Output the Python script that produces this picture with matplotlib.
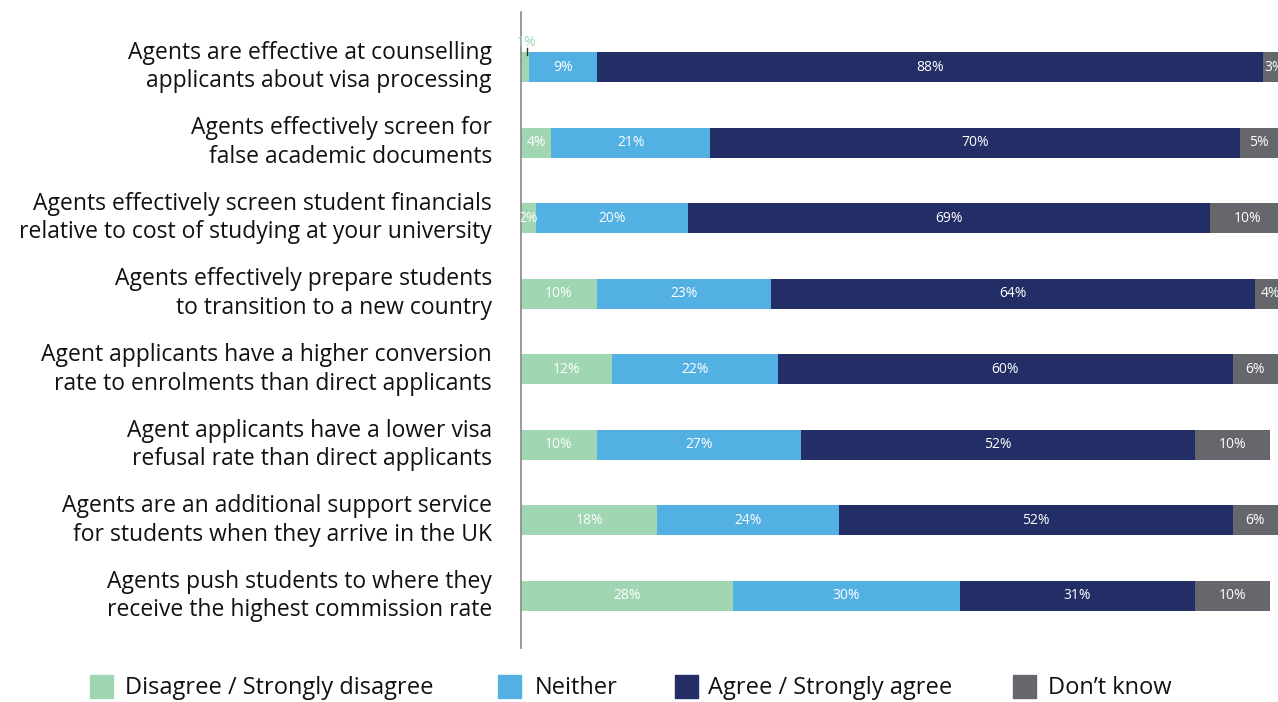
import matplotlib
matplotlib.use("Agg")
import matplotlib.pyplot as plt
from matplotlib.patches import Rectangle

plt.rcParams['font.family'] = ['Open Sans', 'DejaVu Sans']

statements = [
    "Agents are effective at counselling\napplicants about visa processing",
    "Agents effectively screen for\nfalse academic documents",
    "Agents effectively screen student financials\nrelative to cost of studying at your university",
    "Agents effectively prepare students\nto transition to a new country",
    "Agent applicants have a higher conversion\nrate to enrolments than direct applicants",
    "Agent applicants have a lower visa\nrefusal rate than direct applicants",
    "Agents are an additional support service\nfor students when they arrive in the UK",
    "Agents push students to where they\nreceive the highest commission rate",
]
disagree = [1, 4, 2, 10, 12, 10, 18, 28]
neither = [9, 21, 20, 23, 22, 27, 24, 30]
agree = [88, 70, 69, 64, 60, 52, 52, 31]
dont_know = [3, 5, 10, 4, 6, 10, 6, 10]

series = [
    ("Disagree / Strongly disagree", disagree, "#a0d6b1"),
    ("Neither", neither, "#52b1e2"),
    ("Agree / Strongly agree", agree, "#232e66"),
    ("Don\u2019t know", dont_know, "#66676c"),
]

W, H = 1278, 702
fig = plt.figure(figsize=(W / 100, H / 100), dpi=100)
ax = fig.add_axes([521 / W, 1 - 648 / H, 1 - 521 / W, (648 - 12) / H])

ypos = list(range(len(statements)))
left = [0] * len(statements)
bar_h = 0.40
for name, vals, col in series:
    ax.barh(ypos, vals, left=left, height=bar_h, color=col, edgecolor='none')
    for i, v in enumerate(vals):
        cx = left[i] + v / 2
        if v <= 1:
            # tiny segment: label sits above the bar with a short leader
            ax.text(cx + 0.3, i - bar_h / 2 - 0.13, f"{v}%", ha='center',
                    va='center', fontsize=10, color=col, clip_on=False)
            ax.plot([cx + 0.3] * 2, [i - bar_h / 2 - 0.05, i - bar_h / 2 + 0.04],
                    color='#333333', lw=1, clip_on=False)
        else:
            ax.text(cx, i, f"{v}%", ha='center', va='center', fontsize=10,
                    color='white', clip_on=True)
    left = [l + v for l, v in zip(left, vals)]

ax.set_xlim(0, 100)
ax.set_ylim(len(statements) - 1 + 0.69, -0.73)
ax.set_xticks([])
ax.set_yticks(ypos)
ax.set_yticklabels(statements, fontsize=16.5, linespacing=1.25, color='#111111',
                   va='center')
for lbl in ax.get_yticklabels():
    lbl.set_y(lbl.get_position()[1])
ax.tick_params(axis='y', length=0, pad=21)
for sp in ['top', 'right', 'bottom']:
    ax.spines[sp].set_visible(False)
ax.spines['left'].set_color('#888888')
ax.spines['left'].set_linewidth(1.2)

# legend row
legend_pos = [(90, 125), (498, 535), (675, 708), (1013, 1048)]
ly = 688
for (sx, tx), (name, vals, col) in zip(legend_pos, series):
    fig.patches.append(Rectangle((sx / W, 1 - 698 / H), 23 / W, 23 / H,
                                 transform=fig.transFigure, color=col))
    fig.text(tx / W, 1 - ly / H, name, ha='left', va='center', fontsize=17,
             color='#111111')

fig.savefig("out.png", dpi=100)
